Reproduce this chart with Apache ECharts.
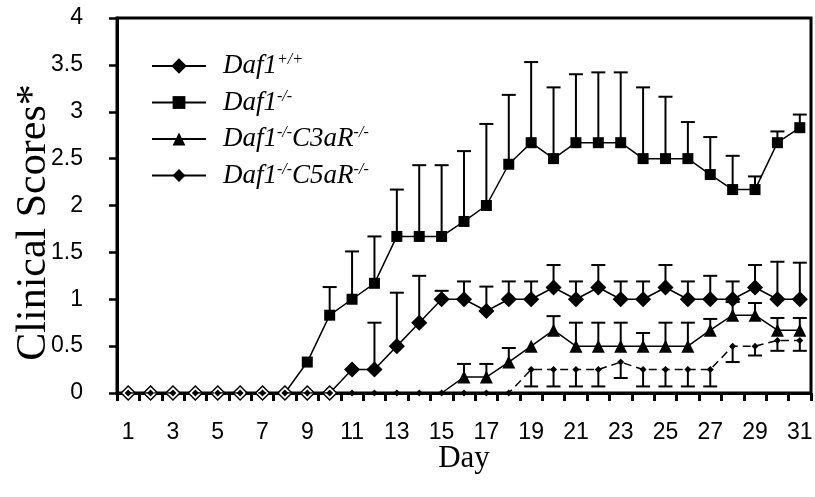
<!DOCTYPE html>
<html>
<head>
<meta charset="utf-8">
<script src="https://cdn.jsdelivr.net/npm/echarts@6/dist/echarts.min.js"></script>
<style>html,body{margin:0;padding:0;background:#fff;}#c{width:815px;height:497px;}</style>
</head>
<body>
<div id="c"></div>
<script>
var days = ['1','2','3','4','5','6','7','8','9','10','11','12','13','14','15','16','17','18','19','20','21','22','23','24','25','26','27','28','29','30','31'];
var yTicks = [0, 0.5, 1, 1.5, 2, 2.5, 3, 3.5, 4];
var seriesNames = ['Daf1+/+', 'Daf1-/-', 'Daf1-/-C3aR-/-', 'Daf1-/-C5aR-/-'];

// Daf1+/+ mean and SD (upward)
var wt   = [0,0,0,0,0,0,0,0,0,0, 0.25,0.25,0.5,0.75,1.0,1.0,0.875,1.0,1.0,1.125,1.0,1.125,1.0,1.0,1.125,1.0,1.0,1.0,1.125,1.0,1.0];
var wtSD = [0,0,0,0,0,0,0,0,0,0, 0,0.5,0.57,0.5,0.09,0.19,0.26,0.19,0.19,0.24,0.19,0.24,0.19,0.19,0.24,0.19,0.25,0.19,0.24,0.40,0.39];
// Daf1-/-
var ko   = [0,0,0,0,0,0,0,0, 0.33,0.83,1.0,1.17,1.67,1.67,1.67,1.83,2.0,2.44,2.67,2.5,2.67,2.67,2.67,2.5,2.5,2.5,2.33,2.17,2.17,2.67,2.83];
var koSD = [0,0,0,0,0,0,0,0, 0,0.3,0.51,0.5,0.5,0.76,0.76,0.75,0.87,0.74,0.86,0.76,0.73,0.75,0.75,0.76,0.66,0.39,0.40,0.36,0.14,0.12,0.14];
// Daf1-/-C3aR-/-
var c3   = [0,0,0,0,0,0,0,0,0,0,0,0,0,0,0, 0.17,0.17,0.33,0.5,0.67,0.5,0.5,0.5,0.5,0.5,0.5,0.67,0.83,0.83,0.67,0.67];
var c3SD = [0,0,0,0,0,0,0,0,0,0,0,0,0,0,0, 0.14,0.14,0.15,0,0.15,0.25,0.25,0.25,0.14,0.25,0.25,0.12,0.14,0.13,0.13,0.13];
// Daf1-/-C5aR-/- (SD drawn downward)
var c5   = [0,0,0,0,0,0,0,0,0,0,0,0,0,0,0,0,0,0, 0.25,0.25,0.25,0.25,0.33,0.25,0.25,0.25,0.25,0.5,0.5,0.56,0.56];
var c5SD = [0,0,0,0,0,0,0,0,0,0,0,0,0,0,0,0,0,0, 0.18,0.18,0.18,0.18,0.17,0.18,0.18,0.18,0.18,0.17,0.1,0.11,0.11];

function errRender(dir) {
  return function (params, api) {
    var i = api.value(0), v = api.value(1), e = api.value(2);
    if (!e) return null;
    var p0 = api.coord([i, v]);
    var p1 = api.coord([i, v + dir * e]);
    var w = 7;
    return {
      type: 'group',
      children: [
        {type: 'line', shape: {x1: p0[0], y1: p0[1], x2: p1[0], y2: p1[1]}, style: {stroke: '#000', lineWidth: 2}},
        {type: 'line', shape: {x1: p1[0] - w, y1: p1[1], x2: p1[0] + w, y2: p1[1]}, style: {stroke: '#000', lineWidth: 2}}
      ]
    };
  };
}
function errData(m, s) { return m.map(function (v, i) { return [i, v, s[i]]; }); }
function errSeries(name, m, s, dir) {
  return {
    type: 'custom', name: name, renderItem: errRender(dir), data: errData(m, s),
    encode: {x: 0, y: 1}, z: 1, silent: true, clip: false
  };
}

var chart = echarts.init(document.getElementById('c'));
var legendFmt = {
  'Daf1+/+': '{i|Daf1}{s|+/+}',
  'Daf1-/-': '{i|Daf1}{s|-/-}',
  'Daf1-/-C3aR-/-': '{i|Daf1}{s|-/-}{i|C3aR}{s|-/-}',
  'Daf1-/-C5aR-/-': '{i|Daf1}{s|-/-}{i|C5aR}{s|-/-}'
};
chart.setOption({
  animation: false,
  backgroundColor: '#fff',
  grid: {left: 117, right: 4, top: 18, bottom: 104, outerBoundsMode: 'none', containLabel: false,
    show: true, borderColor: '#000', borderWidth: 3, backgroundColor: 'transparent'},
  legend: {
    orient: 'vertical', left: 146, top: 47, itemWidth: 54, itemHeight: 16, itemGap: 9,
    data: [
      {name: seriesNames[0], itemStyle: {color: '#000'}}, {name: seriesNames[1]}, {name: seriesNames[2]},
      {name: seriesNames[3], lineStyle: {type: 'solid'}}
    ],
    formatter: function (n) { return legendFmt[n]; },
    textStyle: {
      color: '#000', padding: [0, 0, 0, 12],
      rich: {
        i: {fontFamily: 'Liberation Serif', fontStyle: 'italic', fontSize: 27, lineHeight: 28, color: '#000'},
        s: {fontFamily: 'Liberation Serif', fontStyle: 'italic', fontSize: 16, lineHeight: 16, verticalAlign: 'top', color: '#000'}
      }
    }
  },
  xAxis: {
    type: 'category', data: days, boundaryGap: true,
    name: 'Day', nameLocation: 'middle', nameGap: 50, nameMoveOverlap: false,
    nameTextStyle: {fontFamily: 'Liberation Serif', fontSize: 31, color: '#000'},
    axisLine: {lineStyle: {color: '#000', width: 3}},
    axisTick: {show: true, interval: 0, length: 8, lineStyle: {color: '#000', width: 3}},
    axisLabel: {interval: 1, margin: 28, fontFamily: 'Liberation Sans', fontSize: 23, color: '#000'},
    splitLine: {show: false}
  },
  yAxis: {
    type: 'value', min: 0, max: 4, interval: 0.5,
    name: 'Clinical Scores*', nameLocation: 'middle', nameGap: 62, nameMoveOverlap: false,
    nameTextStyle: {fontFamily: 'Liberation Serif', fontSize: 42, color: '#000', padding: [0, 34, 0, 0]},
    axisLine: {show: true, lineStyle: {color: '#000', width: 3}},
    axisTick: {show: true, length: 8, lineStyle: {color: '#000', width: 2.5}},
    axisLabel: {margin: 34, fontFamily: 'Liberation Sans', fontSize: 23, color: '#000',
      formatter: function (v) { return yTicks.indexOf(v) >= 0 ? String(v) : ''; }},
    splitLine: {show: false}
  },
  series: [
    errSeries('e1', wt, wtSD, 1),
    errSeries('e2', ko, koSD, 1),
    errSeries('e3', c3, c3SD, 1),
    errSeries('e4', c5, c5SD, -1),
    {
      name: seriesNames[1], type: 'line', data: ko, symbol: 'rect', z: 3,
      symbolSize: function (v) { return v === 0 ? 0 : 11; },
      lineStyle: {color: '#000', width: 1.5}, itemStyle: {color: '#000'}
    },
    {
      name: seriesNames[2], type: 'line', data: c3, symbol: 'triangle', z: 3,
      symbolSize: function (v) { return v === 0 ? 0 : 13; },
      lineStyle: {color: '#000', width: 1.5}, itemStyle: {color: '#000'}
    },
    {
      name: seriesNames[0], type: 'line', data: wt, symbol: 'diamond', symbolSize: 14, z: 4,
      lineStyle: {color: '#000', width: 1.5},
      itemStyle: {color: function (p) { return p.value === 0 ? '#fff' : '#000'; }, borderColor: '#000', borderWidth: 1.5}
    },
    {
      name: seriesNames[3], type: 'line', data: c5, symbol: 'diamond', symbolSize: 7, z: 5,
      lineStyle: {color: '#000', width: 1.5, type: [8, 5]}, itemStyle: {color: '#000'}
    }
  ]
});
</script>
</body>
</html>
